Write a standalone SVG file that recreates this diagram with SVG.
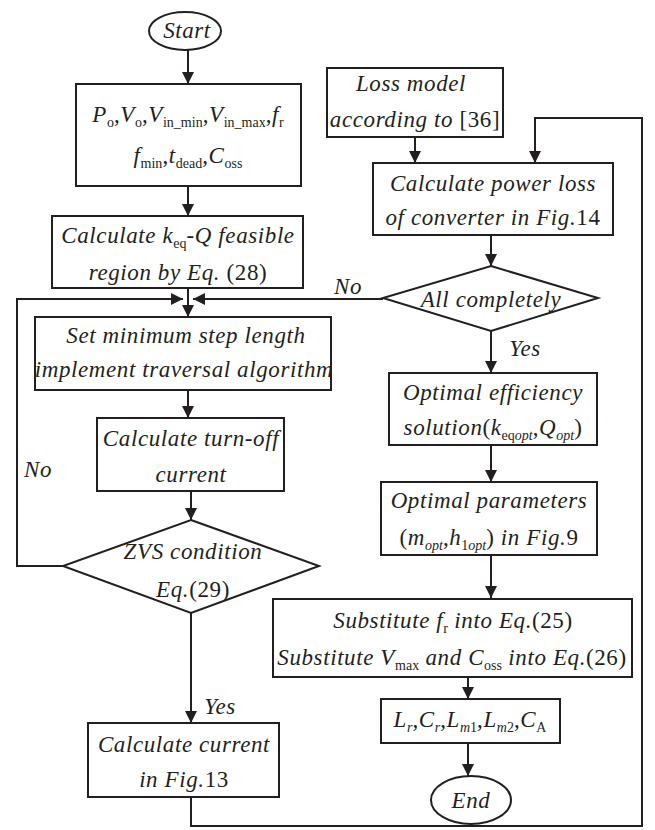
<svg xmlns="http://www.w3.org/2000/svg" width="655" height="830" viewBox="0 0 655 830" font-family="'Liberation Serif', 'Times New Roman', 'DejaVu Serif', serif">
<style>
.b{fill:#fff;stroke:#231f20;stroke-width:2}
.c{fill:none;stroke:#231f20;stroke-width:2}
text{font-family:'Liberation Serif','Times New Roman','DejaVu Serif',serif;font-size:23px;font-style:italic;fill:#231f20;text-anchor:middle;letter-spacing:0.6px}
.u{font-style:normal}
.s{font-style:normal;font-size:14px;letter-spacing:0}
.si{font-style:italic;font-size:14px;letter-spacing:0}
</style>
<defs>
<marker id="a" viewBox="0 0 12 12" refX="12" refY="6" markerWidth="12" markerHeight="12" markerUnits="userSpaceOnUse" orient="auto">
<path d="M0,0 L12,6 L0,12 Z" fill="#231f20"/>
</marker>
</defs>
<rect width="655" height="830" fill="#fff"/>
<g id="connectors">
<line class="c" x1="188" y1="50" x2="188" y2="84" marker-end="url(#a)"/>
<line class="c" x1="188" y1="186" x2="188" y2="216" marker-end="url(#a)"/>
<line class="c" x1="188" y1="288" x2="188" y2="317" marker-end="url(#a)"/>
<polyline class="c" points="63,566 17,566 17,299 183,299" marker-end="url(#a)"/>
<line class="c" x1="383" y1="299" x2="193" y2="299" marker-end="url(#a)"/>
<line class="c" x1="188" y1="390" x2="188" y2="418" marker-end="url(#a)"/>
<line class="c" x1="191" y1="491" x2="191" y2="520" marker-end="url(#a)"/>
<line class="c" x1="191" y1="613" x2="191" y2="723" marker-end="url(#a)"/>
<polyline class="c" points="191,797 191,826 642,826 642,118 535,118 535,163" marker-end="url(#a)"/>
<line class="c" x1="415" y1="137" x2="415" y2="163" marker-end="url(#a)"/>
<line class="c" x1="491" y1="235" x2="491" y2="266" marker-end="url(#a)"/>
<line class="c" x1="491" y1="331" x2="491" y2="373" marker-end="url(#a)"/>
<line class="c" x1="491" y1="445" x2="491" y2="482" marker-end="url(#a)"/>
<line class="c" x1="491" y1="555" x2="491" y2="598" marker-end="url(#a)"/>
<line class="c" x1="468" y1="677" x2="468" y2="699" marker-end="url(#a)"/>
<line class="c" x1="468" y1="743" x2="468" y2="776" marker-end="url(#a)"/>
<text x="348" y="294">No</text>
<text x="38" y="477">No</text>
<text x="525" y="356">Yes</text>
<text x="220" y="714">Yes</text>
</g>
<g id="start">
<ellipse class="b" cx="185" cy="31" rx="36" ry="19"/>
<text x="187" y="38">Start</text>
</g>
<g id="params">
<rect class="b" x="76" y="84" width="225" height="102"/>
<text x="188" y="122">P<tspan class="s" dy="5">o</tspan><tspan class="u" dy="-5">,</tspan>V<tspan class="s" dy="5">o</tspan><tspan class="u" dy="-5">,</tspan>V<tspan class="s" dy="5">in_min</tspan><tspan class="u" dy="-5">,</tspan>V<tspan class="s" dy="5">in_max</tspan><tspan class="u" dy="-5">,</tspan>f<tspan class="s" dy="5">r</tspan></text>
<text x="188" y="163">f<tspan class="s" dy="5">min</tspan><tspan class="u" dy="-5">,</tspan>t<tspan class="s" dy="5">dead</tspan><tspan class="u" dy="-5">,</tspan>C<tspan class="s" dy="5">oss</tspan></text>
</g>
<g id="feasible">
<rect class="b" x="52" y="216" width="251" height="72"/>
<text x="178" y="243">Calculate k<tspan class="s" dy="5">eq</tspan><tspan class="u" dy="-5">-</tspan>Q feasible</text>
<text x="178" y="280">region by Eq.<tspan class="u"> (28)</tspan></text>
</g>
<g id="step">
<rect class="b" x="35" y="317" width="296" height="73"/>
<text x="186" y="343">Set minimum step length</text>
<text x="184" y="377">implement traversal algorithm</text>
</g>
<g id="turnoff">
<rect class="b" x="97" y="418" width="187" height="73"/>
<text x="191" y="446">Calculate turn-off</text>
<text x="191" y="482">current</text>
</g>
<g id="zvs">
<polygon class="b" points="191,520 319,566 191,613 63,566"/>
<text x="193" y="559">ZVS condition</text>
<text x="193" y="597">Eq.<tspan class="u">(29)</tspan></text>
</g>
<g id="current">
<rect class="b" x="88" y="723" width="191" height="74"/>
<text x="184" y="752">Calculate current</text>
<text x="184" y="787">in Fig.<tspan class="u">13</tspan></text>
</g>
<g id="lossmodel">
<rect class="b" x="327" y="68" width="176" height="69"/>
<text x="411" y="91">Loss model</text>
<text x="415" y="127">according to <tspan class="u">[36]</tspan></text>
</g>
<g id="powerloss">
<rect class="b" x="373" y="163" width="240" height="72"/>
<text x="493" y="191">Calculate power loss</text>
<text x="493" y="225">of converter in Fig.<tspan class="u">14</tspan></text>
</g>
<g id="allcomplete">
<polygon class="b" points="491,266 598,298 491,331 383,298"/>
<text x="491" y="307">All completely</text>
</g>
<g id="opteff">
<rect class="b" x="389" y="373" width="208" height="72"/>
<text x="493" y="400">Optimal efficiency</text>
<text x="493" y="435">solution<tspan class="u">(</tspan>k<tspan class="s" dy="5">eq</tspan><tspan class="si">opt</tspan><tspan class="u" dy="-5">,</tspan>Q<tspan class="si" dy="5">opt</tspan><tspan class="u" dy="-5">)</tspan></text>
</g>
<g id="optparam">
<rect class="b" x="381" y="482" width="216" height="73"/>
<text x="489" y="508">Optimal parameters</text>
<text x="489" y="545"><tspan class="u">(</tspan>m<tspan class="si" dy="5">opt</tspan><tspan class="u" dy="-5">,</tspan>h<tspan class="s" dy="5">1</tspan><tspan class="si">opt</tspan><tspan class="u" dy="-5">)</tspan> in Fig.<tspan class="u">9</tspan></text>
</g>
<g id="substitute">
<rect class="b" x="273" y="599" width="359" height="78"/>
<text x="453" y="628">Substitute f<tspan class="s" dy="5">r</tspan><tspan dy="-5"> into Eq.</tspan><tspan class="u">(25)</tspan></text>
<text x="452" y="665">Substitute V<tspan class="s" dy="5">max</tspan><tspan dy="-5"> and C</tspan><tspan class="s" dy="5">oss</tspan><tspan dy="-5"> into Eq.</tspan><tspan class="u">(26)</tspan></text>
</g>
<g id="outputs">
<rect class="b" x="381" y="699" width="179" height="44"/>
<text x="470" y="727">L<tspan class="si" dy="5">r</tspan><tspan class="u" dy="-5">,</tspan>C<tspan class="si" dy="5">r</tspan><tspan class="u" dy="-5">,</tspan>L<tspan class="si" dy="5">m</tspan><tspan class="s">1</tspan><tspan class="u" dy="-5">,</tspan>L<tspan class="si" dy="5">m</tspan><tspan class="s">2</tspan><tspan class="u" dy="-5">,</tspan>C<tspan class="s" dy="5">A</tspan></text>
</g>
<g id="end">
<ellipse class="b" cx="471" cy="800" rx="40" ry="24"/>
<text x="471" y="808">End</text>
</g>
</svg>
